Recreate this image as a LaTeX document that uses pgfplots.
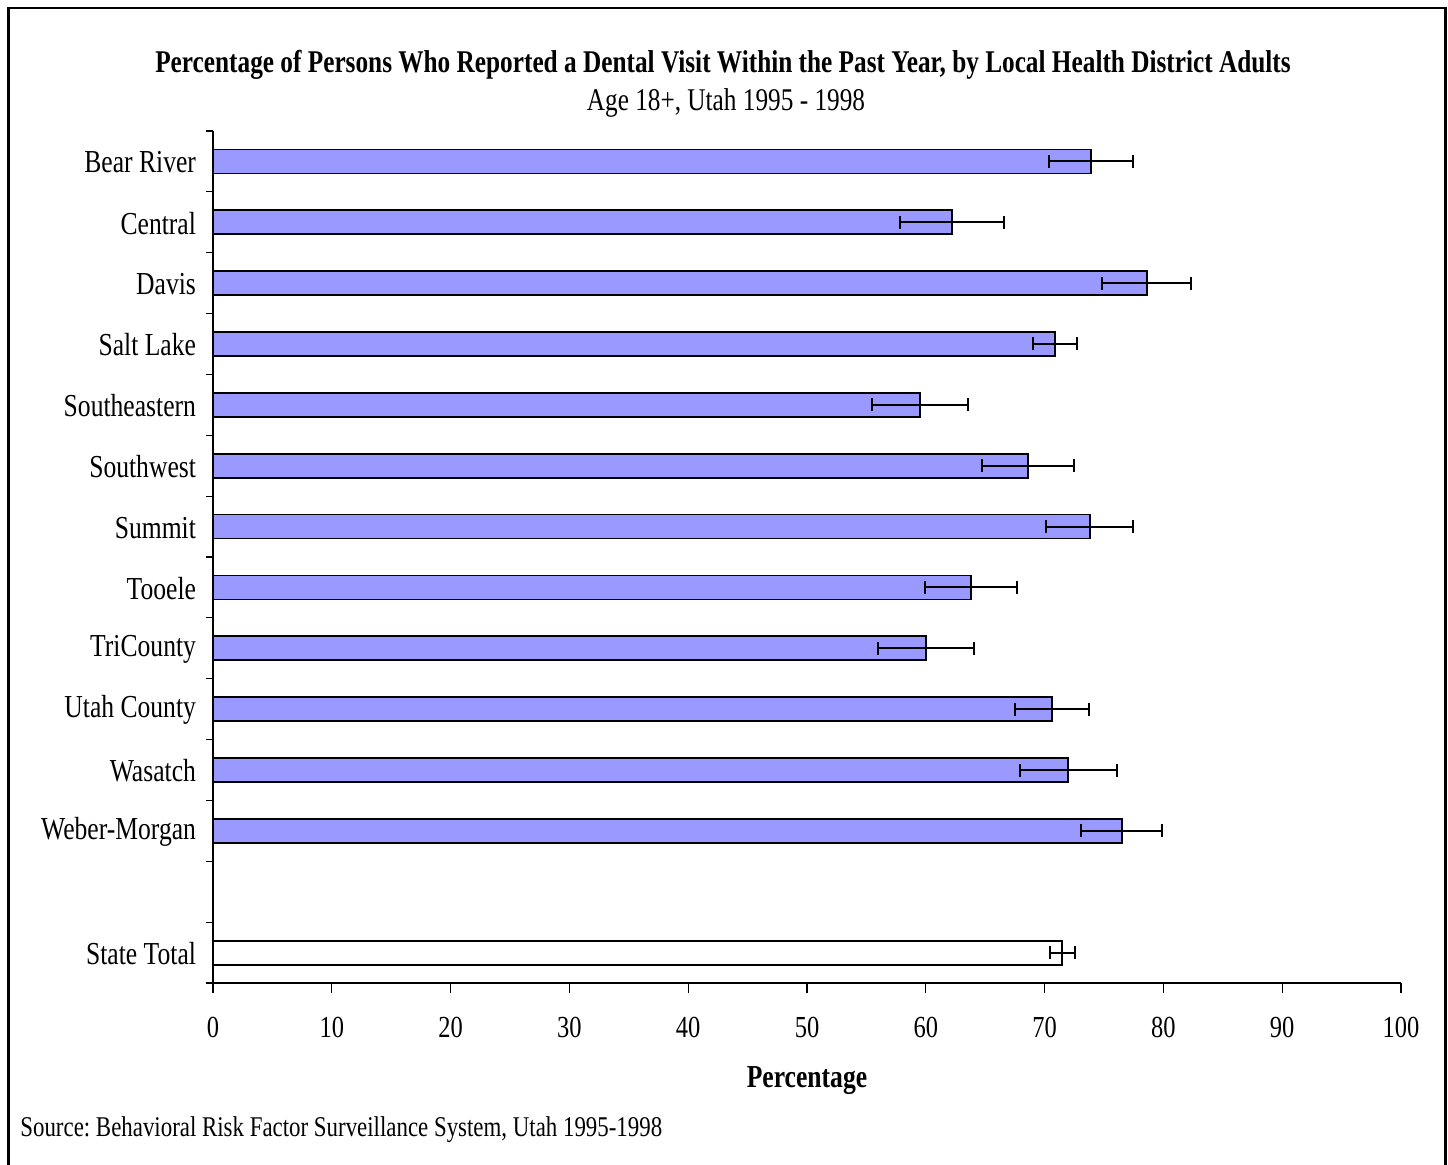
\documentclass[border=0pt]{standalone}
\usepackage{fontspec}
\setmainfont{Liberation Serif}[FakeStretch=0.8]
\usepackage{pgfplots}
\usepackage{pgfplotstable}
\pgfplotsset{compat=1.18}
\definecolor{barblue}{HTML}{9999FF}
\pgfplotstableread{
y x err
0 73.9 3.5
1 62.2 4.4
2 78.6 3.75
3 70.9 1.85
4 59.5 4.05
5 68.6 3.85
6 73.8 3.65
7 63.8 3.9
8 60.0 4.05
9 70.6 3.1
10 72.0 4.1
11 76.5 3.4
}\districts
\pgfplotstableread{
y x err
13 71.5 1.05
}\statetotal
\begin{document}
\frenchspacing
\begin{tikzpicture}[x=1bp,y=1bp]
\useasboundingbox (-106.5,-91) rectangle (617.5,491.5);
\draw[line width=1.25bp] (-102.25,-95) -- (-102.25,487.5) -- (616.25,487.5) -- (616.25,-95);
\begin{axis}[
  at={(0,0)}, anchor=south west,
  width=594bp, height=426bp, scale only axis,
  xmin=0, xmax=100, ymin=-0.5, ymax=13.5, y dir=reverse,
  axis x line*=bottom, axis y line*=left,
  axis line style={line width=0.6bp, black},
  xtick={0,10,...,100},
  ytick={0,1,2,3,4,5,6,7,8,9,10,11,13},
  yticklabels={Bear River,Central,Davis,Salt Lake,Southeastern,Southwest,Summit,Tooele,TriCounty,Utah County,Wasatch,Weber-Morgan,State Total},
  minor ytick={-0.5,0.5,...,13.5},
  tick align=outside,
  major tick length=5bp, minor tick length=3.5bp,
  tick style={line width=0.6bp, black},
  every major y tick/.style={draw=none},
  tick label style={font=\fontsize{15.3bp}{18bp}\selectfont},
  yticklabel style={font=\fontsize{16bp}{19bp}\selectfont, yshift=-0.5bp},
  xticklabel style={yshift=-8.5bp},
  /pgf/number format/assume math mode=true,
  xlabel={\textbf{Percentage}},
  xlabel style={font=\fontsize{16bp}{19bp}\selectfont, at={(axis description cs:0.5,0)}, anchor=center, yshift=-49bp},
  xbar, bar width=12bp, bar shift=0pt,
  clip=false,
]
\addplot[fill=barblue, draw=black, line width=0.9bp,
  error bars/.cd, x dir=both, x explicit, error mark=|,
  error bar style={line width=1bp, black},
  error mark options={line width=1bp, black, mark size=3.25bp}]
  table[x=x, y=y, x error=err] {\districts};
\addplot[fill=white, draw=black, line width=1bp,
  error bars/.cd, x dir=both, x explicit, error mark=|,
  error bar style={line width=1bp, black},
  error mark options={line width=1bp, black, mark size=3.25bp}]
  table[x=x, y=y, x error=err] {\statetotal};
\end{axis}
\node[font=\fontsize{15.8bp}{19bp}\selectfont\bfseries] at (255,459) {Percentage of Persons Who Reported a Dental Visit Within the Past Year, by Local Health District Adults};
\node[font=\fontsize{15.8bp}{19bp}\selectfont] at (256.5,440) {Age 18+, Utah 1995 - 1998};
\node[font=\fontsize{14.3bp}{17bp}\selectfont, anchor=west, inner sep=0pt] at (-96.5,-73.5) {Source: Behavioral Risk Factor Surveillance System, Utah 1995-1998};
\end{tikzpicture}
\end{document}
